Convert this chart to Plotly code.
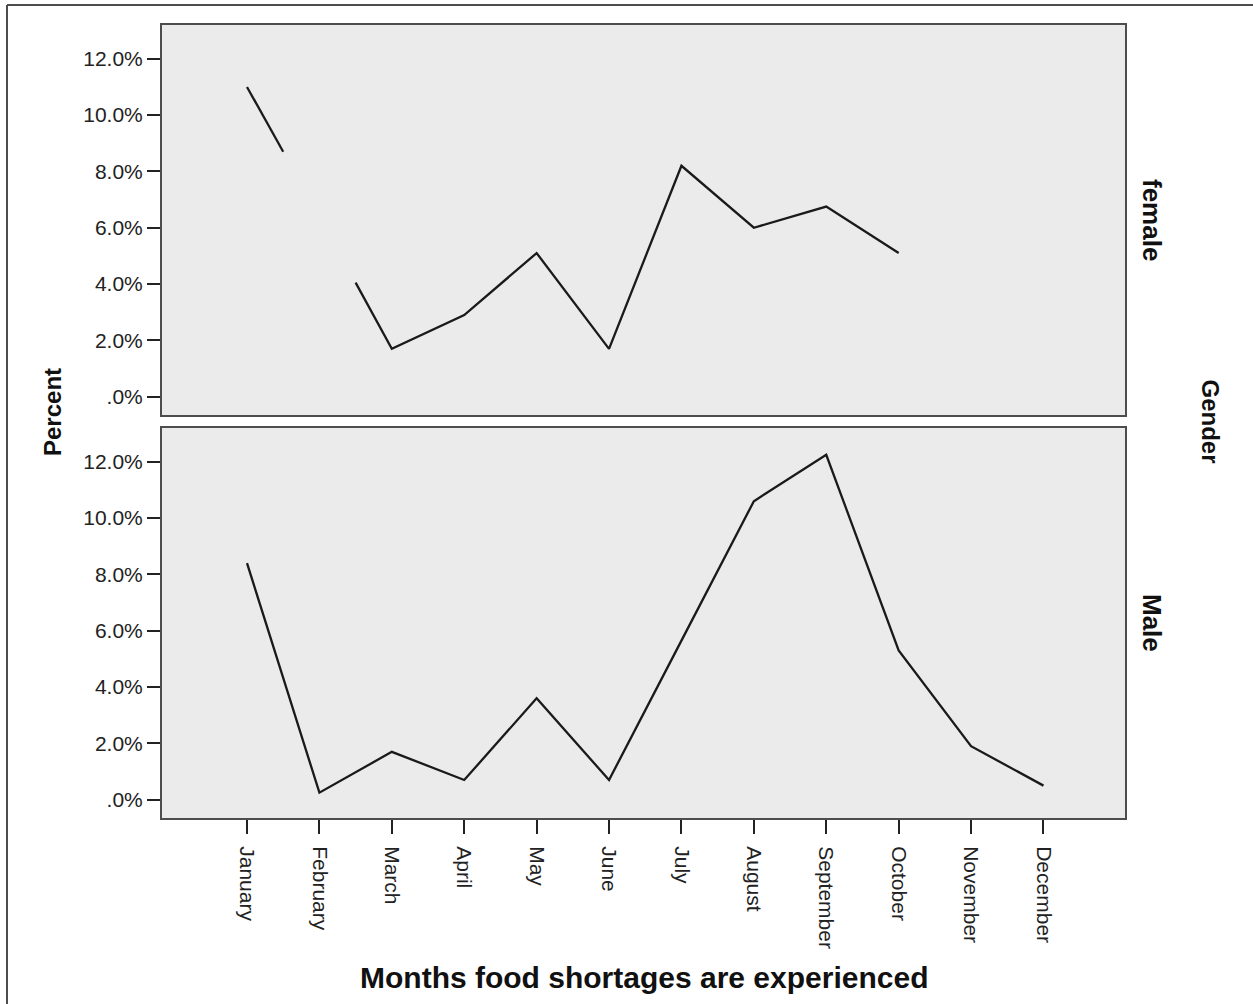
import plotly.graph_objects as go

# Months of the year (x categories)
months = ["January", "February", "March", "April", "May", "June",
          "July", "August", "September", "October", "November", "December"]

# Percent of respondents reporting food shortages, by gender
female_pct = [11.0, 6.4, 1.7, 2.9, 5.1, 1.7, 8.2, 6.0, 6.75, 5.1, None, None]
male_pct = [8.4, 0.25, 1.7, 0.7, 3.6, 0.7, 5.65, 10.6, 12.25, 5.3, 1.9, 0.5]

# Months whose vertex is left undrawn in the female line
female_hidden = ["February"]

y_ticks = [0, 2, 4, 6, 8, 10, 12]
y_ticktext = [".0%", "2.0%", "4.0%", "6.0%", "8.0%", "10.0%", "12.0%"]

FONT = "Liberation Sans, Arial, sans-serif"
LINE = "#1a1a1a"
FRAME = "#4d4d4d"


def line_path(values, hidden=()):
    """Build x/y arrays; a hidden month breaks the line halfway to its neighbours."""
    xs, ys = [], []
    pos = list(range(1, len(months) + 1))
    for i, (m, v) in enumerate(zip(months, values)):
        if v is None:
            xs.append(None); ys.append(None)
            continue
        if m in hidden:
            if i > 0 and values[i - 1] is not None:
                xs.append((pos[i - 1] + pos[i]) / 2)
                ys.append((values[i - 1] + v) / 2)
            xs.append(None); ys.append(None)
            if i + 1 < len(values) and values[i + 1] is not None:
                xs.append((pos[i + 1] + pos[i]) / 2)
                ys.append((values[i + 1] + v) / 2)
            continue
        xs.append(pos[i]); ys.append(v)
    return xs, ys


fx, fy = line_path(female_pct, female_hidden)
mx, my = line_path(male_pct)

fig = go.Figure()
fig.add_trace(go.Scatter(x=fx, y=fy, mode="lines", xaxis="x2", yaxis="y2",
                         line=dict(color=LINE, width=2.3), connectgaps=False,
                         showlegend=False, hoverinfo="skip"))
fig.add_trace(go.Scatter(x=mx, y=my, mode="lines", xaxis="x", yaxis="y",
                         line=dict(color=LINE, width=2.3), connectgaps=False,
                         showlegend=False, hoverinfo="skip"))

W, H = 1253, 1004
ML, MR, MT, MB = 162, 128, 25, 186
plot_h = H - MT - MB
gap_top = (818 - 415) / plot_h
gap_bot = (818 - 428) / plot_h

x_range = [-0.174, 13.126]
y_range = [-0.65, 13.2]

common_y = dict(range=y_range, tickvals=y_ticks, ticktext=y_ticktext,
                showgrid=False, zeroline=False, showline=True, mirror=True,
                linecolor=FRAME, linewidth=2, ticks="outside", ticklen=13,
                tickwidth=2, tickcolor="#222",
                tickfont=dict(family=FONT, size=21, color="#222"))

fig.update_layout(
    width=W, height=H,
    margin=dict(l=ML, r=MR, t=MT, b=MB),
    paper_bgcolor="white", plot_bgcolor="#EBEBEB",
    xaxis=dict(range=x_range, tickvals=list(range(1, 13)), ticktext=months,
               tickangle=90, showgrid=False, zeroline=False, showline=True,
               mirror=True, linecolor=FRAME, linewidth=2, ticks="outside",
               ticklen=14, tickwidth=2, tickcolor="#222", anchor="y",
               ticklabelstandoff=8,
               tickfont=dict(family=FONT, size=21, color="#222")),
    xaxis2=dict(range=x_range, matches="x", showticklabels=False, ticks="",
                showgrid=False, zeroline=False, showline=True, mirror=True,
                linecolor=FRAME, linewidth=2, anchor="y2"),
    yaxis=dict(domain=[0, gap_bot], anchor="x", **common_y),
    yaxis2=dict(domain=[gap_top, 1], anchor="x2", **common_y),
)

annotations = [
    dict(text="<b>Months food shortages are experienced</b>", x=(ML + (W - MR)) / 2,
         y=978, font=dict(family=FONT, size=30, color="#111")),
    dict(text="<b>Percent</b>", x=52, y=412, textangle=-90,
         font=dict(family=FONT, size=24, color="#111")),
    dict(text="<b>Gender</b>", x=1210, y=(MT + H - MB) / 2, textangle=90,
         font=dict(family=FONT, size=24, color="#111")),
    dict(text="<b>female</b>", x=1152, y=(25 + 415) / 2, textangle=90,
         font=dict(family=FONT, size=26, color="#111")),
    dict(text="<b>Male</b>", x=1152, y=(428 + 818) / 2, textangle=90,
         font=dict(family=FONT, size=26, color="#111")),
]
pw = W - ML - MR
for a in annotations:
    px, py = a.pop("x"), a.pop("y")
    fig.add_annotation(xref="paper", yref="paper",
                       x=(px - ML) / pw, y=(H - MB - py) / plot_h,
                       xanchor="center", yanchor="middle", showarrow=False, **a)

# outer frame (top and left edges)
fig.add_shape(type="line", xref="paper", yref="paper",
              x0=(7 - ML) / pw, x1=(W + 5 - ML) / pw,
              y0=(H - MB - 5) / plot_h, y1=(H - MB - 5) / plot_h,
              line=dict(color=FRAME, width=2))
fig.add_shape(type="line", xref="paper", yref="paper",
              x0=(7 - ML) / pw, x1=(7 - ML) / pw,
              y0=(H - MB - 5) / plot_h, y1=(H - MB - H - 5) / plot_h,
              line=dict(color=FRAME, width=2))

fig.write_html("out.html")
